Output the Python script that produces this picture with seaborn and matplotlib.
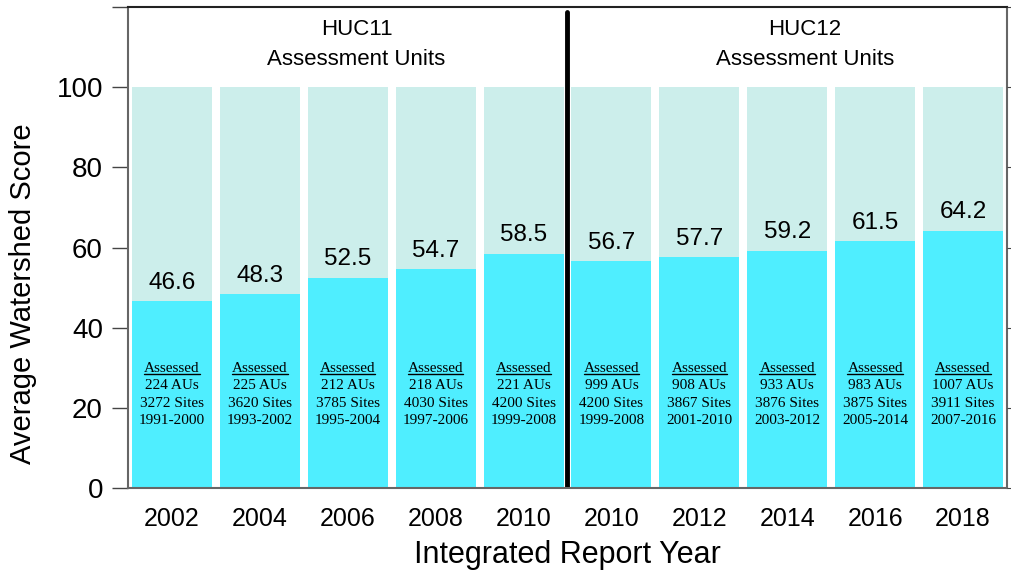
import matplotlib
matplotlib.use('Agg')
import matplotlib.pyplot as plt
import seaborn as sns
import pandas as pd
from matplotlib.lines import Line2D

# data
years = ['2002', '2004', '2006', '2008', '2010', '2010', '2012', '2014', '2016', '2018']
scores = [46.6, 48.3, 52.5, 54.7, 58.5, 56.7, 57.7, 59.2, 61.5, 64.2]
aus = [224, 225, 212, 218, 221, 999, 908, 933, 983, 1007]
sites = [3272, 3620, 3785, 4030, 4200, 4200, 3867, 3876, 3875, 3911]
periods = ['1991-2000', '1993-2002', '1995-2004', '1997-2006', '1999-2008',
           '1999-2008', '2001-2010', '2003-2012', '2005-2014', '2007-2016']
groups = ['HUC11\nAssessment Units', 'HUC12\nAssessment Units']
max_score = 100

sns.set_style('white')
plt.rcParams['font.family'] = ['Liberation Sans', 'DejaVu Sans']
for key in ['text.color', 'axes.labelcolor', 'xtick.labelcolor', 'ytick.labelcolor']:
    plt.rcParams[key] = 'black'

df = pd.DataFrame({'pos': range(len(years)), 'score': scores, 'full': max_score})

fig = plt.figure(figsize=(10.11, 5.73), dpi=100)
ax = fig.add_axes([0.1266, 0.1483, 0.8694, 0.8395])

# background bars up to 100, then the score bars on top
sns.barplot(data=df, x='pos', y='full', color='#cceeeb', saturation=1,
            width=0.91, linewidth=0, ax=ax)
sns.barplot(data=df, x='pos', y='score', color='#4feeff', saturation=1,
            width=0.91, linewidth=0, ax=ax)

# value labels above bars
for i, v in enumerate(scores):
    ax.text(i, v + 1.8, f'{v:.1f}', ha='center', va='bottom', fontsize=17.5)

# assessment details inside the bars, one line at a time
serif = ['Liberation Serif', 'DejaVu Serif']
line_y = [29.9, 25.6, 21.1, 16.8]
heads = []
for i in range(len(years)):
    rows = ['Assessed', f'{aus[i]} AUs', f'{sites[i]} Sites', periods[i]]
    for k, (row, y) in enumerate(zip(rows, line_y)):
        t = ax.text(i, y, row, ha='center', va='center', fontsize=11, family=serif)
        if k == 0:
            heads.append(t)

# group headings and divider
ax.text(2.1, 110.6, groups[0], ha='center', va='center', fontsize=16, linespacing=1.6)
ax.text(7.2, 110.6, groups[1], ha='center', va='center', fontsize=16, linespacing=1.6)
ax.axvline(4.5, ymin=0, ymax=118.8 / 120, color='black', lw=3.5)

ax.set_xlim(-0.5, len(years) - 0.5)
ax.set_ylim(0, 120)
ax.set_yticks([0, 20, 40, 60, 80, 100, 120])
ax.set_yticklabels(['0', '20', '40', '60', '80', '100', ''], fontsize=20)
ax.set_xticks(range(len(years)))
ax.set_xticklabels(years, fontsize=18)
ax.tick_params(axis='x', length=0, pad=14)
ax.tick_params(axis='y', length=11.5, width=1, color='#444444', pad=6.5, direction='out')
ax.set_xlabel('Integrated Report Year', fontsize=22, labelpad=6)
ax.set_ylabel('Average Watershed Score', fontsize=21)
ax.yaxis.set_label_coords(-0.104, 0.405)

for side in ['left', 'right', 'bottom']:
    ax.spines[side].set_color('#666666')
    ax.spines[side].set_linewidth(1.5)
ax.spines['top'].set_color('#222222')
ax.spines['top'].set_linewidth(1.5)

# small ticks on the right side
ax2 = ax.twinx()
ax2.set_ylim(0, 120)
ax2.set_yticks([0, 20, 40, 60, 80, 100, 120])
ax2.set_yticklabels([])
ax2.tick_params(axis='y', length=4, color='#444444', direction='out')
for s in ax2.spines.values():
    s.set_visible(False)

# underline "Assessed" (matplotlib text has no underline option)
fig.canvas.draw()
renderer = fig.canvas.get_renderer()
inv = fig.transFigure.inverted()
for t in heads:
    bb = t.get_window_extent(renderer)
    (x0, y0), (x1, _) = inv.transform([(bb.x0, bb.y0 + 1), (bb.x1, bb.y0 + 1)])
    fig.add_artist(Line2D([x0, x1], [y0, y0], color='black', lw=1))

plt.savefig('out.png', dpi=100)
